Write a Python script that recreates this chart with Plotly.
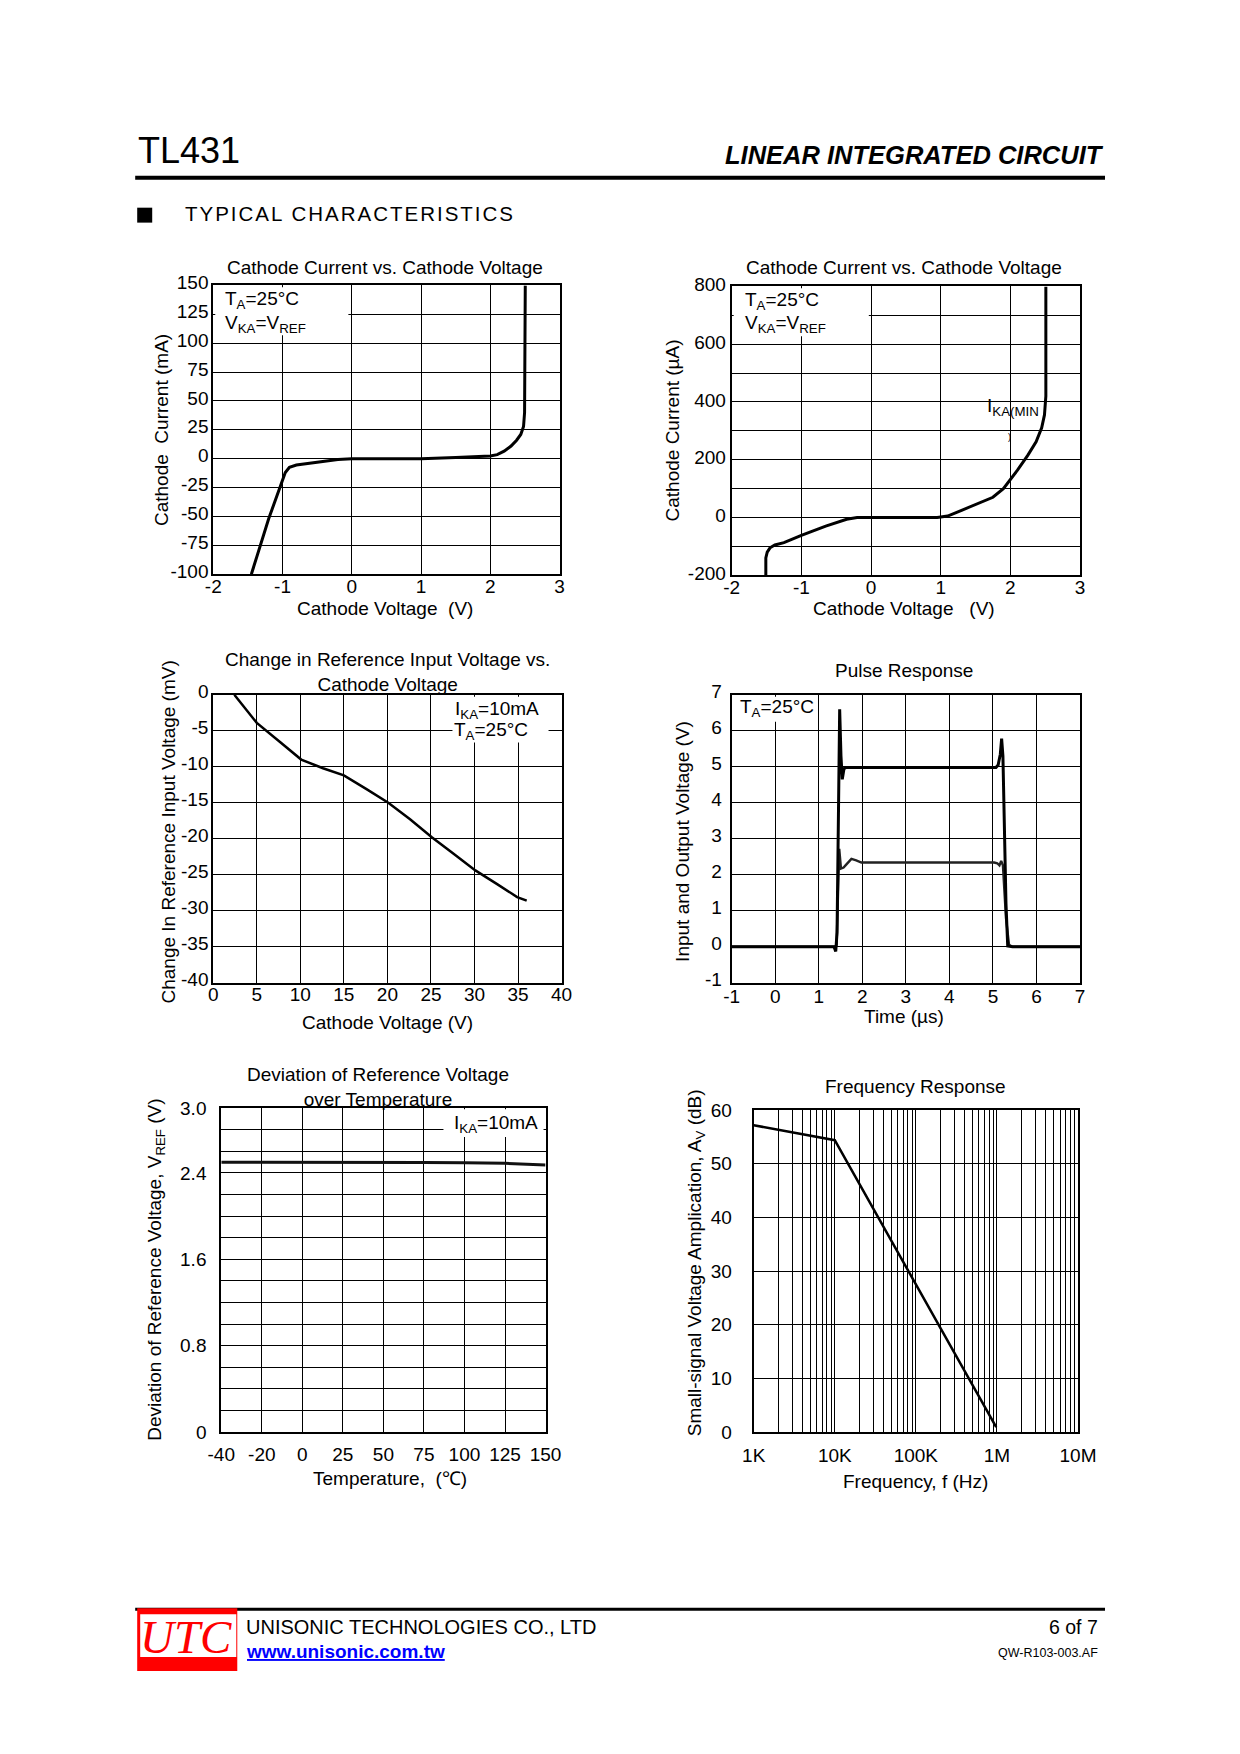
import plotly.graph_objects as go

# figure size in the page (body keeps its default margin)
W, H = 1224, 1738
# where the paper lands in the photographed 1240x1754 picture (measured)
PAPER_X0, PAPER_W = 21.9, 1191.0
PAPER_Y0, PAPER_H = 15.6, 1720.6
FONT = "Liberation Sans, Arial, sans-serif"

# ---------------- data ----------------
# Chart 1: Cathode current (mA) vs cathode voltage (V)
c1_volt = [-1.45, -1.2, -0.96, -0.9, -0.8, -0.6, -0.4, -0.2, 0.0, 1.0, 1.5, 2.0, 2.1, 2.2, 2.3, 2.38, 2.44, 2.48, 2.495, 2.5, 2.505]
c1_curr = [-100, -52, -12, -7.5, -5.5, -3.8, -2.2, -0.6, 0, 0, 1.0, 2.3, 3.5, 6.5, 11, 16, 21, 28, 40, 80, 150]
c1_xticks = [-2, -1, 0, 1, 2, 3]
c1_yticks = [-100, -75, -50, -25, 0, 25, 50, 75, 100, 125, 150]

# Chart 2: Cathode current (uA) vs cathode voltage (V)
c2_volt = [-1.51, -1.51, -1.49, -1.45, -1.38, -1.25, -1.0, -0.65, -0.35, -0.2, 0.95, 1.1, 1.3, 1.5, 1.75, 1.9, 2.0, 2.1, 2.25, 2.37, 2.45, 2.49, 2.51, 2.51]
c2_curr = [-200, -140, -120, -105, -95, -87, -62, -30, -6, 0, 0, 5, 25, 45, 70, 100, 130, 163, 215, 262, 310, 355, 420, 800]
c2_xticks = [-2, -1, 0, 1, 2, 3]
c2_yticks = [-200, 0, 200, 400, 600, 800]

# Chart 3: change in reference input voltage (mV) vs cathode voltage (V)
c3_volt = [2.42, 5.0, 7.7, 10.1, 12.6, 15.0, 17.6, 20.1, 22.6, 25.1, 27.6, 30.1, 32.6, 34.9, 36.0]
c3_dv = [0, -3.9, -6.6, -9.0, -10.2, -11.2, -13.1, -15.0, -17.3, -19.8, -22.1, -24.4, -26.3, -28.1, -28.6]
c3_xticks = [0, 5, 10, 15, 20, 25, 30, 35, 40]
c3_yticks = [-40, -35, -30, -25, -20, -15, -10, -5, 0]

# Chart 4: pulse response
p_out_t = [-1, 1.35, 1.39, 1.42, 1.46, 1.48, 1.51, 1.54, 1.58, 1.63, 5.07, 5.12, 5.17, 5.20, 5.23, 5.27, 5.30, 5.34, 5.45, 7]
p_out_v = [0, 0, -0.13, 0.4, 4.5, 6.6, 5.3, 4.65, 4.95, 4.98, 4.98, 5.05, 5.35, 5.78, 5.3, 3.0, 1.2, 0.02, 0, 0]
p_in_t = [-1, 1.38, 1.41, 1.44, 1.47, 1.51, 1.57, 1.63, 1.75, 1.86, 1.98, 5.03, 5.10, 5.15, 5.19, 5.23, 5.30, 5.37, 5.45, 7]
p_in_v = [0, 0, 0.05, 1.7, 2.72, 2.17, 2.2, 2.28, 2.44, 2.40, 2.34, 2.34, 2.32, 2.26, 2.38, 2.26, 0.8, 0.05, 0, 0]
p_ticks = [-1, 0, 1, 2, 3, 4, 5, 6, 7]

# Chart 5: reference voltage over temperature
temps = [-40, -20, 0, 25, 50, 75, 100, 125, 150]
vref = [2.50, 2.50, 2.501, 2.501, 2.50, 2.498, 2.494, 2.49, 2.474]
c5_yticks = [0, 0.8, 1.6, 2.4, 3.0]
c5_ytext = ["0", "0.8", "1.6", "2.4", "3.0"]

# Chart 6: frequency response
freq = [1e3, 1e4, 9.8e5]
gain = [57.2, 54.4, 0.9]
f_ticks = [1e3, 1e4, 1e5, 1e6, 1e7]
f_text = ["1K", "10K", "100K", "1M", "10M"]

# ---------------- helpers (picture pixel -> paper) ----------------
def px(x):
    return (x - PAPER_X0) / PAPER_W

def py(y):
    return 1 - (y - PAPER_Y0) / PAPER_H

fig = go.Figure()

boxes = {
    1: (213, 559, 281, 571),
    2: (731, 1079, 282, 572),
    3: (213, 561, 692, 981),
    4: (731, 1079, 692, 981),
    5: (221, 545, 1107, 1432),
    6: (753, 1077, 1109, 1432),
}

TICK = 19
ax_common = dict(
    showline=True, mirror=True, linecolor="black", linewidth=2,
    showgrid=True, gridcolor="black", gridwidth=1, zeroline=False,
    tickfont=dict(family=FONT, size=TICK, color="black"),
    ticks="", fixedrange=True,
)

def set_axes(i, xopt, yopt, xoff, yoff, yshift=0):
    x0, x1, y0, y1 = boxes[i]
    xa = dict(ax_common, domain=[px(x0), px(x1)], anchor=f"y{i}", ticklabelstandoff=xoff, **xopt)
    ya = dict(ax_common, domain=[py(y1), py(y0)], anchor=f"x{i}", ticklabelstandoff=yoff,
              ticklabelshift=yshift, **yopt)
    fig.update_layout(**{("xaxis" if i == 1 else f"xaxis{i}"): xa,
                         ("yaxis" if i == 1 else f"yaxis{i}"): ya})

def arr(vals):
    return dict(tickmode="array", tickvals=vals, ticktext=[str(v) for v in vals])

set_axes(1, dict(range=[-2, 3], **arr(c1_xticks)),
         dict(range=[-100, 150], **arr(c1_yticks)), -6, -1, -3)
set_axes(2, dict(range=[-2, 3], **arr(c2_xticks)),
         dict(range=[-200, 800], **arr(c2_yticks),
              minor=dict(dtick=100, tick0=0, showgrid=True, gridcolor="black", gridwidth=1)), -6, 0, -2)
set_axes(3, dict(range=[0, 40], **arr(c3_xticks)),
         dict(range=[-40, 0], **arr(c3_yticks)), -6, -1, -3)
set_axes(4, dict(range=[-1, 7], **arr(p_ticks)),
         dict(range=[-1, 7], **arr(p_ticks)), -4, 4, -3)
tpos = list(range(len(temps)))
set_axes(5, dict(range=[0, len(temps) - 1], tickmode="array", tickvals=tpos,
                 ticktext=[str(t) for t in temps]),
         dict(range=[0, 3.0], tickmode="array", tickvals=c5_yticks, ticktext=c5_ytext,
              minor=dict(dtick=0.2, tick0=0, showgrid=True, gridcolor="black", gridwidth=1)), 4, 9)
minor_f = [m * 10 ** e for e in range(3, 7) for m in range(2, 10)]
set_axes(6, dict(type="log", range=[3, 7], tickmode="array", tickvals=f_ticks, ticktext=f_text,
                 minor=dict(tickmode="array", tickvals=minor_f, showgrid=True, gridcolor="black", gridwidth=1)),
         dict(range=[0, 60], dtick=10, tick0=0), 5, 16)

line_k = dict(color="black", width=3)
fig.add_trace(go.Scatter(x=c1_volt, y=c1_curr, mode="lines", line=line_k, xaxis="x", yaxis="y"))
fig.add_trace(go.Scatter(x=c2_volt, y=c2_curr, mode="lines", line=line_k, xaxis="x2", yaxis="y2"))
fig.add_trace(go.Scatter(x=c3_volt, y=c3_dv, mode="lines", line=dict(color="black", width=2.5), xaxis="x3", yaxis="y3"))
fig.add_trace(go.Scatter(x=p_in_t, y=p_in_v, mode="lines", line=dict(color="#222222", width=2.4), xaxis="x4", yaxis="y4"))
fig.add_trace(go.Scatter(x=p_out_t, y=p_out_v, mode="lines", line=dict(color="black", width=3), xaxis="x4", yaxis="y4"))
fig.add_trace(go.Scatter(x=tpos, y=vref, mode="lines", line=dict(color="#111111", width=3), xaxis="x5", yaxis="y5"))
fig.add_trace(go.Scatter(x=freq, y=gain, mode="lines", line=dict(color="black", width=2.5), xaxis="x6", yaxis="y6"))

shapes = []
def rect(x0, y0, x1, y1, color, layer="above"):
    shapes.append(dict(type="rect", xref="paper", yref="paper", x0=px(x0), x1=px(x1),
                       y0=py(y1), y1=py(y0), fillcolor=color, line=dict(width=0), layer=layer))

def hline(x0, x1, y, w):
    shapes.append(dict(type="line", xref="paper", yref="paper", x0=px(x0), x1=px(x1),
                       y0=py(y), y1=py(y), line=dict(color="black", width=w)))

# white boxes behind in-plot annotations
rect(215, 283, 348, 331, "white")
rect(733, 284, 868, 332, "white")
rect(452, 694, 548, 740, "white")
rect(733, 694, 817, 719, "white")
rect(443, 1108, 543, 1136, "white")

# header / footer decorations
hline(135, 1104, 173, 4)
rect(137, 203, 152, 218, "black")
hline(135, 1104, 1610, 3)
rect(137, 1609, 237, 1672, "#ff0000")
rect(140, 1615, 236, 1658, "white")

annotations = []
def text(x, y, s, size=19, xanchor="center", yanchor="middle", angle=0, family=FONT, color="black"):
    annotations.append(dict(x=px(x), y=py(y), xref="paper", yref="paper", text=s, showarrow=False,
                            xanchor=xanchor, yanchor=yanchor, textangle=angle,
                            font=dict(family=family, size=size, color=color)))

# header
text(136, 146, "TL431", size=36, xanchor="left")
text(1105, 150, "<b><i>LINEAR INTEGRATED CIRCUIT</i></b>", size=25.5, xanchor="right")
text(183, 209, '<span style="letter-spacing:2px">TYPICAL CHARACTERISTICS</span>', size=20.5, xanchor="left")

# chart titles
text(385, 263, "Cathode Current vs. Cathode Voltage")
text(903, 263, "Cathode Current vs. Cathode Voltage")
text(387, 669, "Change in Reference Input Voltage vs.<br>Cathode Voltage")
text(903, 668, "Pulse Response")
text(378, 1086, "Deviation of Reference Voltage<br>over Temperature")
text(915, 1085, "Frequency Response")

# axis titles
text(385, 605, "Cathode Voltage  (V)")
text(162, 426, "Cathode  Current (mA)", angle=-90)
text(903, 605, "Cathode Voltage   (V)")
text(672, 427, "Cathode Current (µA)", angle=-90)
text(387, 1021, "Cathode Voltage (V)")
text(168, 830, "Change In Reference Input Voltage (mV)", angle=-90)
text(903, 1015, "Time (µs)")
text(682, 839, "Input and Output Voltage (V)", angle=-90)
text(390, 1479, "Temperature,  (℃)")
text(155, 1269, "Deviation of Reference Voltage, V<sub>REF</sub> (V)", angle=-90)
text(915, 1482, "Frequency, f (Hz)")
text(695, 1262, "Small-signal Voltage Amplication, A<sub>V</sub> (dB)", angle=-90)

# in-plot notes
text(223, 296, "T<sub>A</sub>=25°C", xanchor="left")
text(223, 320, "V<sub>KA</sub>=V<sub>REF</sub>", xanchor="left")
text(742, 297, "T<sub>A</sub>=25°C", xanchor="left")
text(742, 320, "V<sub>KA</sub>=V<sub>REF</sub>", xanchor="left")
text(984, 403, "I<sub>KA(MIN</sub>", size=19, xanchor="left")
text(1009, 433, ")", size=9)
text(453, 707, "I<sub>KA</sub>=10mA", xanchor="left")
text(452, 728, "T<sub>A</sub>=25°C", xanchor="left")
text(737, 705, "T<sub>A</sub>=25°C", xanchor="left")
text(452, 1123, "I<sub>KA</sub>=10mA", xanchor="left")

# footer
text(186, 1638, "<i>UTC</i>", size=47, family="Liberation Serif, Times New Roman, serif", color="#ff0000")
text(244, 1628, "UNISONIC TECHNOLOGIES CO., LTD", size=20, xanchor="left")
text(244, 1652, "<b><u>www.unisonic.com.tw</u></b>", size=19, xanchor="left", color="#0000ff")
text(1099, 1628, "6 of 7", size=19.5, xanchor="right")
text(1099, 1654, "QW-R103-003.AF", size=12.5, xanchor="right")

fig.update_layout(
    width=W, height=H, margin=dict(l=0, r=0, t=0, b=0),
    paper_bgcolor="white", plot_bgcolor="white", showlegend=False,
    shapes=shapes, annotations=annotations,
    font=dict(family=FONT, color="black"),
)

fig.write_html("out.html", config={"displayModeBar": False})
